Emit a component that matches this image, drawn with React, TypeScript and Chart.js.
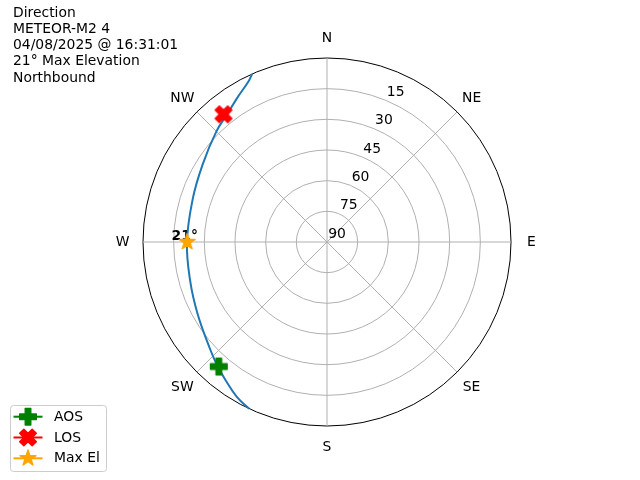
import React, { useEffect, useRef } from 'react';
import { Chart, registerables } from 'chart.js';

Chart.register(...registerables);

// ---------------- data ----------------
const titleLines = ['Direction', 'METEOR-M2 4', '04/08/2025 @ 16:31:01', '21° Max Elevation', 'Northbound'];
const compassLabels = ['N', 'NE', 'E', 'SE', 'S', 'SW', 'W', 'NW'];
const elevationMin = 0;
const elevationMax = 90;
const elevationStep = 15;

// pass track: azimuth (deg) / elevation (deg)
const trackAzimuth = [205, 210, 216, 222, 228, 241, 254, 270, 288, 302, 315, 322, 328, 334, 336];
const trackElevation = [0, 2.2, 6.0, 9.4, 12.7, 17.6, 20.4, 21.5, 21.0, 18.3, 13.5, 10.7, 7.0, 2.5, 0];

const aosAzimuth = [221];
const aosElevation = [9.3];
const losAzimuth = [321];
const losElevation = [9.6];
const maxElAzimuth = [270];
const maxElElevation = [21.6];
const maxElText = '21°';

const seriesNames = ['AOS', 'LOS', 'Max El'];
const seriesColors = ['#008000', '#ff0000', '#ffa500'];
const seriesMarkers = ['plus', 'x', 'star'];
const trackColor = '#1f77b4';

// ---------------- helpers ----------------
const FONT = "'DejaVu Sans', sans-serif";
const FS = 13.9;
const AZ_COUNT = 360;
const azimuthLabels = Array.from({ length: AZ_COUNT }, (_, i) => String(i));

function toSeries(az: number[], el: number[]) {
  const arr: (number | null)[] = new Array(AZ_COUNT).fill(null);
  az.forEach((a, i) => {
    arr[Math.round(a) % AZ_COUNT] = el[i];
  });
  return arr;
}

const MS = 16.67; // 12pt marker at 100 dpi
const MEW = 1.39;

function markerPoints(kind: string): number[][] {
  if (kind === 'plus') {
    return [[-1, -3], [1, -3], [1, -1], [3, -1], [3, 1], [1, 1], [1, 3], [-1, 3], [-1, 1], [-3, 1], [-3, -1], [-1, -1]].map(([x, y]) => [x / 6, y / 6]);
  }
  if (kind === 'x') {
    return [[-1, -2], [0, -1], [1, -2], [2, -1], [1, 0], [2, 1], [1, 2], [0, 1], [-1, 2], [-2, 1], [-1, 0], [-2, -1]].map(([x, y]) => [x / 4, y / 4]);
  }
  const pts: number[][] = [];
  for (let k = 0; k < 10; k++) {
    const th = (Math.PI * 2 * k) / 10 + Math.PI / 2;
    const r = k % 2 === 0 ? 0.5 : 0.5 * 0.381966;
    pts.push([r * Math.cos(th), r * Math.sin(th)]);
  }
  return pts;
}

function drawMarker(ctx: CanvasRenderingContext2D, kind: string, color: string, cx: number, cy: number) {
  const pts = markerPoints(kind);
  ctx.save();
  ctx.beginPath();
  pts.forEach(([x, y], i) => {
    const px = cx + x * MS;
    const py = cy - y * MS;
    if (i === 0) ctx.moveTo(px, py);
    else ctx.lineTo(px, py);
  });
  ctx.closePath();
  ctx.fillStyle = color;
  ctx.fill();
  ctx.lineWidth = MEW;
  ctx.lineJoin = 'round';
  ctx.strokeStyle = color;
  ctx.stroke();
  ctx.restore();
}

function makeMarkerCanvas(kind: string, color: string) {
  const c = document.createElement('canvas');
  c.width = 22;
  c.height = 22;
  const g = c.getContext('2d');
  if (g) drawMarker(g, kind, color, 11, 11);
  return c;
}

const TRACK_INDEX = 3;

// radar lines are closed loops by default; keep the pass track open
const openTrackPlugin = {
  id: 'openTrack',
  afterDatasetUpdate(chart: any, args: any) {
    if (args.index !== TRACK_INDEX) return;
    const line = args.meta.dataset;
    if (!line) return;
    line._loop = false;
    line._fullLoop = false;
    delete line._segments;
    delete line._path;
  },
};

const overlayPlugin = {
  id: 'overlay',
  beforeDatasetsDraw(chart: any) {
    const ctx: CanvasRenderingContext2D = chart.ctx;
    const scale = chart.scales.r;
    ctx.save();
    ctx.fillStyle = '#000';
    ctx.font = `${FS}px ${FONT}`;
    ctx.textAlign = 'center';
    ctx.textBaseline = 'middle';
    // compass labels
    compassLabels.forEach((lab, i) => {
      const p = scale.getPointPosition(i * 45, scale.drawingArea + 20.5);
      ctx.fillText(lab, p.x, p.y + 0.5);
    });
    // radial tick labels at 22.5 deg
    const a = (22.5 * Math.PI) / 180;
    scale.ticks.forEach((t: any) => {
      if (t.value === elevationMin) return;
      const d = scale.getDistanceFromCenterForValue(t.value);
      const x = scale.xCenter + d * Math.sin(a) + 10;
      const y = scale.yCenter - d * Math.cos(a) - 8;
      ctx.fillText(String(t.value), x, y);
    });
    // max elevation annotation
    const meta = chart.getDatasetMeta(2);
    const idx = Math.round(maxElAzimuth[0]) % AZ_COUNT;
    const pt = meta.data[idx];
    if (pt) {
      ctx.font = `bold ${FS}px ${FONT}`;
      ctx.fillText(maxElText, pt.x - 2.4, pt.y - 5.7);
    }
    ctx.restore();
  },
  afterDraw(chart: any) {
    const ctx: CanvasRenderingContext2D = chart.ctx;
    ctx.save();
    // title block
    ctx.fillStyle = '#000';
    ctx.font = `${FS}px ${FONT}`;
    ctx.textAlign = 'left';
    ctx.textBaseline = 'alphabetic';
    titleLines.forEach((t, i) => {
      ctx.fillText(t, 13, 16.8 + 16.2 * i);
    });
    // legend
    const lx = 10.5, ly = 405.5, lw = 96, lh = 66, rr = 3;
    ctx.beginPath();
    ctx.moveTo(lx + rr, ly);
    ctx.lineTo(lx + lw - rr, ly);
    ctx.quadraticCurveTo(lx + lw, ly, lx + lw, ly + rr);
    ctx.lineTo(lx + lw, ly + lh - rr);
    ctx.quadraticCurveTo(lx + lw, ly + lh, lx + lw - rr, ly + lh);
    ctx.lineTo(lx + rr, ly + lh);
    ctx.quadraticCurveTo(lx, ly + lh, lx, ly + lh - rr);
    ctx.lineTo(lx, ly + rr);
    ctx.quadraticCurveTo(lx, ly, lx + rr, ly);
    ctx.closePath();
    ctx.fillStyle = 'rgba(255,255,255,0.8)';
    ctx.fill();
    ctx.strokeStyle = '#cccccc';
    ctx.lineWidth = 1;
    ctx.stroke();
    seriesNames.forEach((name, i) => {
      const y = 416.7 + 20.8 * i;
      const color = chart.data.datasets[i].borderColor;
      ctx.beginPath();
      ctx.moveTo(13.5, y);
      ctx.lineTo(42.5, y);
      ctx.strokeStyle = color;
      ctx.lineWidth = 2;
      ctx.stroke();
      drawMarker(ctx, seriesMarkers[i], color, 28, y);
      ctx.fillStyle = '#000';
      ctx.font = `${FS}px ${FONT}`;
      ctx.textBaseline = 'middle';
      ctx.fillText(chart.data.datasets[i].label, 54, y + 0.5);
    });
    ctx.restore();
  },
};

export default function App() {
  const canvasRef = useRef<HTMLCanvasElement | null>(null);

  useEffect(() => {
    const canvas = canvasRef.current;
    if (!canvas) return;
    const markerImgs = seriesMarkers.map((k, i) => makeMarkerCanvas(k, seriesColors[i]));
    const pointSeries = [
      toSeries(aosAzimuth, aosElevation),
      toSeries(losAzimuth, losElevation),
      toSeries(maxElAzimuth, maxElElevation),
    ];
    const chart = new Chart(canvas, {
      type: 'radar',
      data: {
        labels: azimuthLabels,
        datasets: [
          ...seriesNames.map((name, i) => ({
            label: name,
            data: pointSeries[i],
            showLine: false,
            fill: false,
            borderColor: seriesColors[i],
            backgroundColor: seriesColors[i],
            pointStyle: markerImgs[i] as any,
            pointRadius: 8,
            pointHoverRadius: 8,
          })),
          {
            label: 'Track',
            data: toSeries(trackAzimuth, trackElevation),
            showLine: true,
            fill: false,
            spanGaps: true,
            tension: 0.4,
            borderColor: trackColor,
            backgroundColor: trackColor,
            borderWidth: 2,
            pointRadius: 0,
            pointHoverRadius: 0,
          },
        ],
      } as any,
      options: {
        responsive: false,
        animation: false,
        events: [],
        layout: { padding: { left: 143, right: 129, top: 58, bottom: 54 } },
        plugins: {
          legend: { display: false },
          title: { display: false },
          tooltip: { enabled: false },
        },
        scales: {
          r: {
            min: elevationMin,
            max: elevationMax,
            reverse: true,
            startAngle: 0,
            ticks: { display: false, stepSize: elevationStep },
            pointLabels: { display: false },
            grid: {
              circular: true,
              color: (c: any) => (c.tick && c.tick.value === elevationMin ? '#000000' : '#b0b0b0'),
              lineWidth: 1,
            },
            angleLines: {
              display: true,
              color: '#b0b0b0',
              lineWidth: (c: any) => (c.index % 45 === 0 ? 1 : 0),
            },
          },
        },
      } as any,
      plugins: [openTrackPlugin, overlayPlugin],
    });
    return () => chart.destroy();
  }, []);

  return (
    <div style={{ position: 'fixed', left: 0, top: 0, width: 640, height: 480, background: '#fff' }}>
      <canvas ref={canvasRef} width={640} height={480} style={{ display: 'block' }} />
    </div>
  );
}
